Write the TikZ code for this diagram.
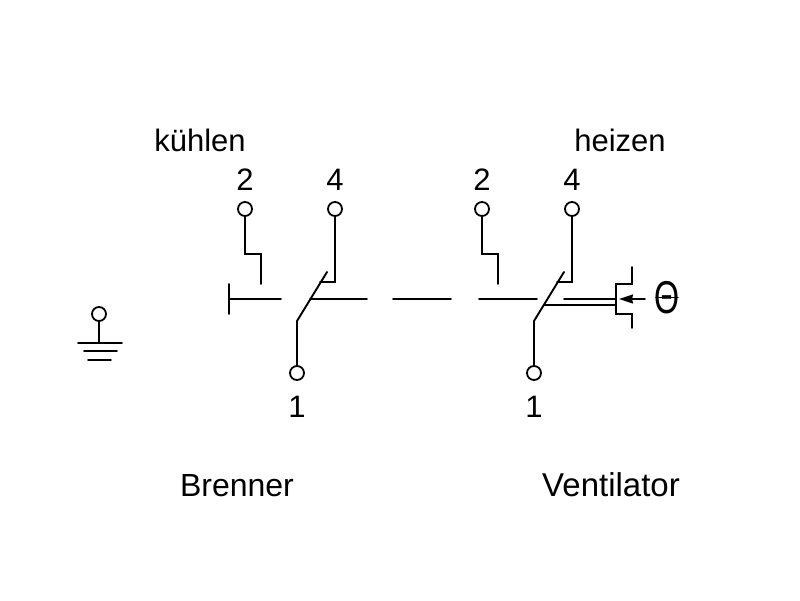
\documentclass[tikz,border=0pt]{standalone}
\usepackage{fontspec}
\setmainfont{Liberation Sans}
\usetikzlibrary{arrows.meta}
\tikzset{
    wire/.style={line width=1.9pt, line cap=round, line join=miter},
    terminal/.style={circle, draw, line width=1.8pt, minimum size=14pt, inner sep=0pt},
    label text/.style={anchor=base, inner sep=0pt, font=\fontsize{31}{38}\selectfont},
}
\begin{document}
\begin{tikzpicture}[x=1pt, y=-1pt]
\useasboundingbox (0,0) rectangle (800,600);
\node[label text] (kuehlen) at (200,151) {kühlen};
\node[label text] (heizen) at (620,151) {heizen};
\node[label text, font=\fontsize{32}{38}\selectfont] (brenner) at (237,496) {Brenner};
\node[label text, font=\fontsize{33}{38}\selectfont] (ventilator) at (611,496) {Ventilator};
\node[label text] (numA2) at (245,190) {2};
\node[label text] (numA4) at (335,190) {4};
\node[label text] (numA1) at (297,417) {1};
\node[label text] (numB2) at (482,190) {2};
\node[label text] (numB4) at (572,190) {4};
\node[label text] (numB1) at (534,417) {1};
\node[anchor=center, inner sep=0pt, font=\fontsize{46}{50}\selectfont] (theta) at (667,298) {\scalebox{0.7}[1]{Θ}};
\node[terminal] (termA2) at (245,209) {};
\node[terminal] (termA4) at (335,209) {};
\node[terminal] (termA1) at (297,373) {};
\node[terminal] (termB2) at (482,209) {};
\node[terminal] (termB4) at (572,209) {};
\node[terminal] (termB1) at (534,373) {};
\node[terminal] (termE) at (99,314) {};
\coordinate (cornerA2a) at (245,254);
\coordinate (cornerA2b) at (261,254);
\coordinate (endA2) at (261,284);
\coordinate (cornerA4a) at (335,282);
\coordinate (cornerA4b) at (320,282);
\coordinate (kneeA) at (297,321);
\coordinate (tipA) at (327,272);
\coordinate (cornerB2a) at (482,254);
\coordinate (cornerB2b) at (498,254);
\coordinate (endB2) at (498,284);
\coordinate (cornerB4a) at (572,282);
\coordinate (cornerB4b) at (557,282);
\coordinate (kneeB) at (534,321);
\coordinate (tipB) at (564,272);
\coordinate (barTop) at (229,284);
\coordinate (barBot) at (229,314);
\coordinate (barMid) at (229,299);
\coordinate (dashA) at (281,299);
\coordinate (dashB) at (310,299);
\coordinate (dashC) at (367,299);
\coordinate (dashD) at (393,299);
\coordinate (dashE) at (451,299);
\coordinate (dashF) at (479,299);
\coordinate (dashG) at (537,299);
\coordinate (pushA) at (564,299);
\coordinate (pushB) at (616,299);
\coordinate (pullA) at (544,305);
\coordinate (pullB) at (616,305);
\coordinate (capTop) at (616,284);
\coordinate (capBot) at (616,314);
\coordinate (capTopR) at (632,284);
\coordinate (capBotR) at (632,314);
\coordinate (capTopEnd) at (632,267);
\coordinate (capBotEnd) at (632,328);
\coordinate (arrowA) at (645,299);
\coordinate (arrowB) at (619,299);
\coordinate (thetaL) at (656,297.5);
\coordinate (thetaR) at (678,297.5);
\coordinate (earthTop) at (99,343);
\coordinate (earthAl) at (78,343);
\coordinate (earthAr) at (122,343);
\coordinate (earthBl) at (84,351);
\coordinate (earthBr) at (117,351);
\coordinate (earthCl) at (88,360);
\coordinate (earthCr) at (111,360);
\draw[wire] (termA2) -- (cornerA2a) -- (cornerA2b) -- (endA2);
\draw[wire] (termA4) -- (cornerA4a) -- (cornerA4b);
\draw[wire] (termA1) -- (kneeA) -- (tipA);
\draw[wire] (termB2) -- (cornerB2a) -- (cornerB2b) -- (endB2);
\draw[wire] (termB4) -- (cornerB4a) -- (cornerB4b);
\draw[wire] (termB1) -- (kneeB) -- (tipB);
\draw[wire] (barTop) -- (barBot);
\draw[wire] (barMid) -- (dashA);
\draw[wire] (dashB) -- (dashC);
\draw[wire] (dashD) -- (dashE);
\draw[wire] (dashF) -- (dashG);
\draw[wire] (pushA) -- (pushB);
\draw[wire] (pullA) -- (pullB);
\draw[wire] (capTopEnd) -- (capTopR) -- (capTop) -- (capBot) -- (capBotR) -- (capBotEnd);
\draw[wire, -{Stealth[length=14pt, width=9pt, inset=1pt]}] (arrowA) -- (arrowB);
\draw[wire] (thetaL) -- (thetaR);
\draw[wire] (termE) -- (earthTop);
\draw[wire] (earthAl) -- (earthAr);
\draw[wire] (earthBl) -- (earthBr);
\draw[wire] (earthCl) -- (earthCr);
\end{tikzpicture}
\end{document}
